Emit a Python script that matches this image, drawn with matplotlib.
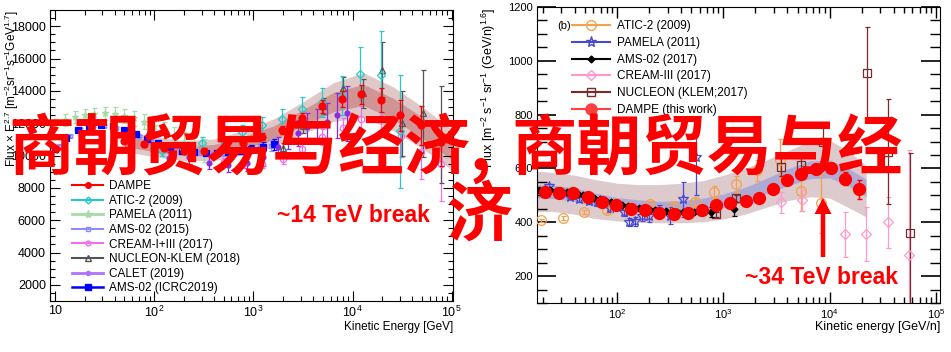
import matplotlib
matplotlib.use('Agg')
import matplotlib.pyplot as plt
import matplotlib.ticker as mticker
from matplotlib.lines import Line2D
from matplotlib.patches import FancyArrow
import math

plt.rcParams['font.family'] = ['Liberation Sans', 'DejaVu Sans']
plt.rcParams['mathtext.fontset'] = 'custom'
plt.rcParams['mathtext.rm'] = 'Liberation Sans'
plt.rcParams['mathtext.it'] = 'Liberation Sans:italic'
plt.rcParams['mathtext.bf'] = 'Liberation Sans:bold'

# ---------------- left panel: proton, flux x E^2.7 ----------------
dampe_p_e = [50, 79, 126, 200, 316, 500, 794, 1230, 1950, 3090, 4900, 7760, 12300, 19500, 30200, 49000, 77600]
dampe_p_f = [10900, 10700, 10450, 10300, 10300, 10450, 10800, 11150, 11570, 12300, 13040, 13470, 13780, 13410, 12490, 11880, 10830]
dampe_p_err = [150, 150, 150, 150, 160, 170, 190, 220, 260, 320, 400, 500, 600, 750, 950, 1200, 1500]

band_p_e = [50, 100, 200, 400, 800, 1600, 3200, 6400, 12800, 25600, 51200, 103000]
band_p_out_hi = [11550, 11180, 10920, 11020, 11560, 12260, 13340, 14500, 15130, 14250, 12990, 11540]
band_p_out_lo = [10250, 9920, 9680, 9680, 10040, 10540, 11360, 12100, 12380, 11550, 10410, 9060]
band_p_in_hi = [11230, 10870, 10610, 10680, 11180, 11830, 12840, 13900, 14400, 13550, 12350, 10920]
band_p_in_lo = [10570, 10230, 9990, 10020, 10420, 10970, 11860, 12700, 13100, 12250, 11050, 9680]

ams19_e = [10, 13, 17, 22, 29, 38, 50, 65, 85, 110, 145, 190, 250, 330, 430, 560, 730, 950, 1250, 1600]
ams19_f = [10400, 11100, 11600, 11850, 11900, 11800, 11600, 11300, 11000, 10750, 10500, 10300, 10200, 10150, 10150, 10200, 10300, 10400, 10550, 10700]
ams19_err = [60, 60, 60, 60, 60, 60, 60, 70, 70, 80, 90, 100, 110, 120, 140, 160, 190, 230, 280, 350]

ams15_e = [11, 14, 18, 24, 31, 41, 54, 70, 92, 120, 160, 210, 280, 370, 490, 650, 860, 1150, 1500]
ams15_f = [10600, 11200, 11650, 11850, 11850, 11700, 11500, 11200, 10900, 10650, 10420, 10250, 10150, 10100, 10150, 10250, 10350, 10450, 10600]
ams15_err = [60, 60, 60, 60, 60, 60, 60, 70, 70, 80, 90, 100, 110, 130, 150, 180, 220, 270, 340]

pamela_p_e = [10, 12.6, 15.8, 20, 25, 31.6, 40, 50, 63, 79, 100, 126, 158, 200, 251, 316]
pamela_p_f = [11900, 12200, 12400, 12500, 12550, 12600, 12550, 12450, 12300, 12100, 11850, 11550, 11200, 10850, 10500, 10300]
pamela_p_err = [350, 370, 380, 400, 400, 420, 430, 440, 450, 470, 500, 530, 560, 600, 650, 700]

atic_p_e = [120, 190, 300, 480, 760, 1230, 1950, 3090, 4900, 7760, 12000, 19500, 30200]
atic_p_f = [10300, 10500, 10800, 11020, 11450, 11900, 12250, 12900, 13300, 13700, 15070, 15000, 11500]
atic_p_err = [300, 300, 350, 400, 450, 500, 600, 700, 900, 1200, 1650, 2700, 3500]

nucleon_p_e = [2000, 3160, 5000, 7940, 12600, 20000, 31600, 51300, 77600]
nucleon_p_f = [10470, 11800, 13040, 14150, 13840, 15310, 12000, 12610, 11300]
nucleon_p_err = [300, 400, 500, 700, 900, 1700, 2000, 2700, 3000]

cream_p_e = [500, 794, 1230, 2000, 3090, 4900, 7940, 12300, 19500, 30900, 49000, 77600]
cream_p_f = [9600, 9500, 9490, 9790, 10400, 11140, 11690, 12250, 12300, 11200, 10220, 9500]
cream_p_err = [250, 250, 280, 320, 400, 500, 650, 800, 1000, 1300, 1700, 2300]

calet_e = [100, 141, 224, 355, 550, 871, 1259, 1778, 2239, 2818, 3467, 4365, 5495, 6918, 8710]
calet_f = [10000, 9850, 9900, 9550, 9420, 9550, 9900, 10530, 11080, 11400, 11750, 11880, 12060, 12490, 12610]
calet_err = [350, 350, 400, 400, 450, 500, 550, 600, 700, 800, 900, 1000, 1200, 1400, 1700]

# ---------------- right panel: helium, flux x E^2.6 ----------------
dampe_he_e = [21.1, 28.6, 38.9, 53.0, 71.9, 97.7, 136, 185, 251, 341, 464, 631, 857, 1167, 1622, 2153, 2931, 3981, 5408, 7516, 10230, 13900, 18880]
dampe_he_f = [512, 510, 507, 495, 475, 463, 451, 444, 436, 432, 436, 446, 463, 473, 479, 489, 525, 556, 578, 599, 603, 562, 522]
dampe_he_err = [3, 3, 3, 3, 3, 3, 3, 3, 3, 3, 4, 4, 5, 5, 6, 7, 8, 9, 11, 14, 18, 25, 35]

band_he_e = [17.7, 25, 40, 60, 100, 160, 250, 400, 650, 1000, 1600, 2500, 4000, 6500, 10000, 15000, 22000]
band_he_out_hi = [590, 585, 575, 560, 545, 540, 540, 545, 555, 575, 600, 630, 665, 700, 705, 665, 610]
band_he_out_lo = [440, 440, 430, 415, 405, 400, 398, 398, 402, 412, 430, 455, 480, 495, 490, 455, 420]
band_he_in_hi = [540, 538, 528, 510, 492, 483, 478, 480, 490, 505, 530, 562, 598, 628, 632, 600, 560]
band_he_in_lo = [490, 488, 478, 460, 445, 437, 432, 433, 440, 455, 478, 505, 535, 562, 565, 535, 495]

ams_he_e = [18.5, 21, 23.5, 26.5, 30, 34, 38, 43, 48, 54, 61, 69, 78, 88, 99, 112, 126, 142, 160, 180, 203, 229, 258, 291, 328, 370, 417, 470, 530, 600, 760, 1260]
ams_he_f = [521, 520, 519, 517, 515, 513, 510, 506, 502, 497, 492, 486, 480, 475, 470, 465, 460, 456, 453, 450, 447, 445, 443, 441, 440, 439, 438, 437, 437, 438, 437, 450]
ams_he_err = [3, 3, 3, 3, 3, 3, 3, 3, 3, 3, 3, 3, 3, 3, 3, 3, 3, 3, 3, 3, 3, 4, 4, 4, 5, 5, 6, 7, 8, 10, 18, 28]

pamela_he_e = [20.2, 23.0, 28.6, 36, 43.5, 54, 64.6, 85.8, 117, 130, 148, 173, 202, 251, 313, 417, 553]
pamela_he_f = [511, 533, 507, 495, 485, 480, 474, 452, 437, 400, 404, 422, 422, 441, 425, 485, 641]
pamela_he_err = [10, 10, 10, 10, 10, 12, 12, 12, 14, 15, 16, 18, 20, 24, 30, 65, 140]

atic_he_e = [19.3, 31.3, 49.5, 80.3, 130, 206, 334, 540, 820, 1330, 2070, 3430, 5400, 8290]
atic_he_f = [407, 415, 437, 444, 455, 467, 459, 474, 511, 541, 593, 630, 515, 470]
atic_he_err = [6, 7, 8, 9, 10, 12, 14, 18, 22, 30, 40, 78, 72, 110]

cream_he_e = [3470, 5500, 13800, 21900, 35500, 56200]
cream_he_f = [474, 481, 355, 355, 400, 278]
cream_he_err = [40, 40, 85, 100, 95, 390]

nucleon_he_e = [857, 1330, 3490, 5410, 8570, 22500, 35700, 56500]
nucleon_he_f = [430, 489, 607, 611, 700, 956, 663, 359]
nucleon_he_err = [10, 12, 35, 35, 67, 170, 195, 300]

W, H = 951, 352
fig = plt.figure(figsize=(W / 100, H / 100), dpi=100)
axL = fig.add_axes([50 / W, 1 - 301 / H, 403 / W, 291 / H])
axR = fig.add_axes([537 / W, 1 - 303 / H, 403 / W, 296 / H])


def eb(ax, x, y, err, color, marker, ms, filled=True, z=3, lw=0.9, mew=0.9):
    ax.errorbar(x, y, yerr=err, fmt=marker, color=color, ms=ms,
                mfc=color if filled else 'none', mec=color, mew=mew,
                elinewidth=lw, capsize=1.8, capthick=lw, zorder=z)


def log_fmt(v, pos):
    n = int(round(math.log10(v)))
    if n == 1:
        return '10'
    return r'$10^{%d}$' % n


# ---- left
axL.fill_between(band_p_e, band_p_out_lo, band_p_out_hi, color='#e0c8c8', lw=0, zorder=1)
axL.fill_between(band_p_e, band_p_in_lo, band_p_in_hi, color='#d09494', lw=0, zorder=1.1)
eb(axL, pamela_p_e, pamela_p_f, pamela_p_err, '#a6dca6', '*', 5, filled=False)
eb(axL, ams15_e, ams15_f, ams15_err, '#8c8cff', 's', 3.5, filled=False)
eb(axL, ams19_e, ams19_f, ams19_err, '#0000ff', 's', 4)
eb(axL, calet_e, calet_f, calet_err, '#8a2be2', 'o', 3.5)
eb(axL, cream_p_e, cream_p_f, cream_p_err, '#ee6fee', 'o', 4.5, filled=False)
eb(axL, nucleon_p_e, nucleon_p_f, nucleon_p_err, '#555555', '^', 5, filled=False)
eb(axL, atic_p_e, atic_p_f, atic_p_err, '#28c8c8', 'D', 4, filled=False)
eb(axL, dampe_p_e, dampe_p_f, dampe_p_err, '#ff0000', 'o', 5, z=4)

axL.set_xscale('log')
axL.set_xlim(8.9, 1.03e5)
axL.set_ylim(1000, 19000)
axL.yaxis.set_major_locator(mticker.MultipleLocator(2000))
axL.yaxis.set_minor_locator(mticker.MultipleLocator(500))
axL.xaxis.set_major_formatter(mticker.FuncFormatter(log_fmt))
axL.tick_params(which='both', direction='in', top=True, right=True, labelsize=9, width=0.8, pad=3)
axL.tick_params(which='major', length=7)
axL.tick_params(which='minor', length=3.5)

hL = [
    Line2D([], [], color='#ff0000', marker='o', ms=4),
    Line2D([], [], color='#28c8c8', marker='D', ms=3.5, mfc='none'),
    Line2D([], [], color='#a6dca6', marker='*', ms=6, lw=2),
    Line2D([], [], color='#8c8cff', marker='s', ms=3.5, mfc='none'),
    Line2D([], [], color='#ee6fee', marker='o', ms=3.5, mfc='none'),
    Line2D([], [], color='#555555', marker='^', ms=4, mfc='none'),
    Line2D([], [], color='#b070ff', marker='o', ms=3, lw=2),
    Line2D([], [], color='#0000ff', marker='s', ms=4, lw=1.8),
]
lL = ['DAMPE', 'ATIC-2 (2009)', 'PAMELA (2011)', 'AMS-02 (2015)', 'CREAM-I+III (2017)',
      'NUCLEON-KLEM (2018)', 'CALET (2019)', 'AMS-02 (ICRC2019)']
axL.legend(hL, lL, loc='upper left', bbox_to_anchor=(0.055, 0.415), frameon=False,
           fontsize=8.5, handlelength=2.6, handletextpad=0.5, labelspacing=0.22,
           borderpad=0, borderaxespad=0)

# ---- right
axR.fill_between(band_he_e, band_he_out_lo, band_he_out_hi, color='#dccacd', lw=0, zorder=1)
axR.fill_between(band_he_e, band_he_in_lo, band_he_in_hi, color='#aeaad4', lw=0, zorder=1.1)
eb(axR, pamela_he_e, pamela_he_f, pamela_he_err, '#4848d0', '*', 7, filled=False)
eb(axR, atic_he_e, atic_he_f, atic_he_err, '#f5a04a', 'o', 7, filled=False)
eb(axR, ams_he_e, ams_he_f, ams_he_err, '#000000', 'D', 3.5, z=3.5)
eb(axR, cream_he_e, cream_he_f, cream_he_err, '#ff99cc', 'D', 5, filled=False)
eb(axR, nucleon_he_e, nucleon_he_f, nucleon_he_err, '#7a2a2a', 's', 6, filled=False)
axR.plot(dampe_he_e, dampe_he_f, 'o', color='#ff0000', ms=8.5, zorder=4)
axR.errorbar(dampe_he_e, dampe_he_f, yerr=dampe_he_err, fmt='none', ecolor='#ff0000',
             elinewidth=1, capsize=1.8, zorder=4)

axR.set_xscale('log')
axR.set_xlim(17.7, 1.09e5)
axR.set_ylim(100, 1200)
axR.yaxis.set_major_locator(mticker.MultipleLocator(200))
axR.yaxis.set_minor_locator(mticker.MultipleLocator(50))
axR.xaxis.set_major_formatter(mticker.FuncFormatter(log_fmt))
axR.tick_params(which='both', direction='in', top=True, right=True, labelsize=8, width=1, pad=3)
axR.tick_params(axis='y', which='major', length=14, width=1.2)
axR.tick_params(axis='y', which='minor', length=7)
axR.tick_params(axis='x', which='major', length=8)
axR.tick_params(axis='x', which='minor', length=4)

hR = [
    Line2D([], [], color='#f5a04a', marker='o', ms=7, mfc='none'),
    Line2D([], [], color='#4848d0', marker='*', ms=8, mfc='none'),
    Line2D([], [], color='#000000', marker='D', ms=3.5),
    Line2D([], [], color='#ff99cc', marker='D', ms=5, mfc='none'),
    Line2D([], [], color='#7a2a2a', marker='s', ms=6, mfc='none'),
    Line2D([], [], color='#ff4040', marker='o', ms=8),
]
lR = ['ATIC-2 (2009)', 'PAMELA (2011)', 'AMS-02 (2017)', 'CREAM-III (2017)',
      'NUCLEON (KLEM;2017)', 'DAMPE (this work)']
axR.legend(hR, lR, loc='upper left', bbox_to_anchor=(0.087, 0.955), frameon=False,
           fontsize=8.5, handlelength=3.2, handletextpad=0.6, labelspacing=0.4,
           borderpad=0, borderaxespad=0)
axR.text(0.05, 0.935, '(b)', transform=axR.transAxes, fontsize=8, ha='left', va='center')


def ftext(x, y, s, **kw):
    return fig.text(x / W, 1 - y / H, s, **kw)


# axis titles
ftext(12, 10, r'Flux $\times$ E$^{2.7}$ [m$^{-2}$sr$^{-1}$s$^{-1}$GeV$^{1.7}$]', rotation=90,
      ha='center', va='top', fontsize=8.5)
ftext(489, 8, r'Flux [m$^{-2}$ s$^{-1}$ sr$^{-1}$ (GeV/n)$^{1.6}$]', rotation=90,
      ha='center', va='top', fontsize=9)
ftext(453, 327, 'Kinetic Energy [GeV]', ha='right', va='center', fontsize=8.5)
ftext(940, 327, 'Kinetic energy [GeV/n]', ha='right', va='center', fontsize=9)

# red overlay
cjk = ['Noto Sans CJK SC', 'DejaVu Sans']
ftext(8, 150, '商朝贸易与经济', family=cjk, fontweight='bold', color='#ff0000',
      fontsize=47.5, ha='left', va='center')
ftext(470, 150, ',', family=cjk, fontweight='bold', color='#ff0000',
      fontsize=47.5, ha='left', va='center')
ftext(511, 150, '商朝贸易与经', family=cjk, fontweight='bold', color='#ff0000',
      fontsize=47, ha='left', va='center')
ftext(447, 216, '济', family=cjk, fontweight='bold', color='#ff0000',
      fontsize=47.5, ha='left', va='center')
ftext(277, 216, '~14 TeV break', fontweight='bold', color='#ff0000',
      fontsize=16.5, ha='left', va='center')
ftext(745, 277, '~34 TeV break', fontweight='bold', color='#ff0000',
      fontsize=16.5, ha='left', va='center')
fig.add_artist(FancyArrow(8.23, (H - 257) / 100, 0, 0.59, width=0.045, head_width=0.17,
                          head_length=0.16, length_includes_head=True, color='#ff0000',
                          lw=0, transform=fig.dpi_scale_trans))

fig.savefig('out.png', dpi=100)
